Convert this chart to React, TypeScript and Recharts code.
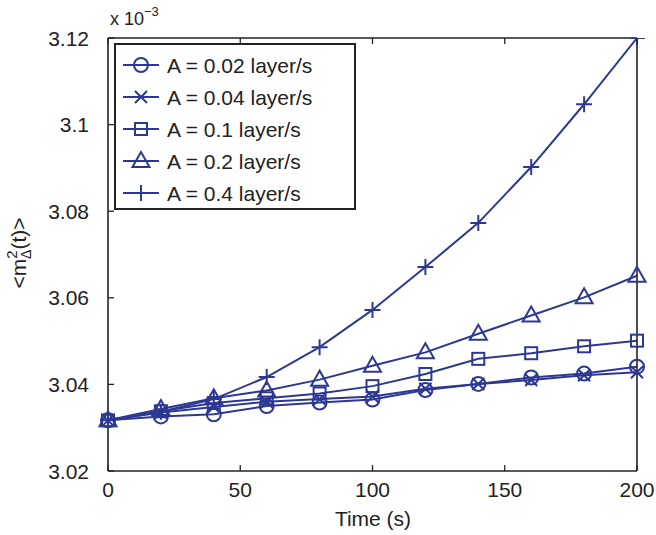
import React from 'react';
import { LineChart, Line, XAxis, YAxis, Legend } from 'recharts';

// time axis (s)
const times = [0, 20, 40, 60, 80, 100, 120, 140, 160, 180, 200];
// <m^2_Delta(t)>, in units of 1e-3
const a002 = [3.0317, 3.0326, 3.0331, 3.0350, 3.0358, 3.0365, 3.0387, 3.0401, 3.0416, 3.0425, 3.0441];
const a004 = [3.0317, 3.0335, 3.0348, 3.0360, 3.0366, 3.0372, 3.0390, 3.0401, 3.0410, 3.0421, 3.0428];
const a01 = [3.0317, 3.0338, 3.0357, 3.0368, 3.0379, 3.0396, 3.0424, 3.0459, 3.0472, 3.0488, 3.0501];
const a02 = [3.0317, 3.0343, 3.0368, 3.0386, 3.0411, 3.0443, 3.0474, 3.0517, 3.0559, 3.0601, 3.0651];
const a04 = [3.0317, 3.0337, 3.0366, 3.0417, 3.0486, 3.0572, 3.0671, 3.0773, 3.0902, 3.1047, 3.1200];

const seriesNames = ['A = 0.02 layer/s', 'A = 0.04 layer/s', 'A = 0.1 layer/s', 'A = 0.2 layer/s', 'A = 0.4 layer/s'];
const seriesKeys = ['a002', 'a004', 'a01', 'a02', 'a04'];
const markers = ['circle', 'cross', 'square', 'triangle', 'plus'];

const xTicks = [0, 50, 100, 150, 200];
const yTicks = [3.02, 3.04, 3.06, 3.08, 3.1, 3.12];

const data = times.map((t, i) => ({
  t,
  a002: a002[i],
  a004: a004[i],
  a01: a01[i],
  a02: a02[i],
  a04: a04[i],
}));

const BLUE = '#2c3892';
const AXIS = '#222';
const FONT = '"Liberation Sans", Arial, Helvetica, sans-serif';
const TICK_LEN = 6;

function Marker({ type, cx, cy }: { type: string; cx: number; cy: number }) {
  const p = { fill: 'none', stroke: BLUE, strokeWidth: 2 };
  switch (type) {
    case 'circle':
      return <circle cx={cx} cy={cy} r={7} {...p} />;
    case 'square':
      return <rect x={cx - 6} y={cy - 6} width={12} height={12} {...p} />;
    case 'triangle':
      return <polygon points={`${cx},${cy - 9} ${cx - 8.5},${cy + 6} ${cx + 8.5},${cy + 6}`} {...p} />;
    case 'plus':
      return <path d={`M${cx - 8},${cy}H${cx + 8}M${cx},${cy - 8}V${cy + 8}`} {...p} />;
    case 'cross':
      return <path d={`M${cx - 6},${cy - 6}L${cx + 6},${cy + 6}M${cx - 6},${cy + 6}L${cx + 6},${cy - 6}`} {...p} />;
    default:
      return null;
  }
}

const fmtY = (v: number) => String(parseFloat(v.toFixed(2)));

const BottomTick = (props: any) => {
  const { x, y, payload } = props;
  return (
    <g>
      <line x1={x} y1={y} x2={x} y2={y - TICK_LEN} stroke={AXIS} strokeWidth={1.3} />
      <text x={x} y={y + 26} textAnchor="middle" fontSize={21} fill="#222" fontFamily={FONT}>
        {payload.value}
      </text>
    </g>
  );
};

const TopTick = (props: any) => {
  const { x, y } = props;
  return <line x1={x} y1={y} x2={x} y2={y + TICK_LEN} stroke={AXIS} strokeWidth={1.3} />;
};

const LeftTick = (props: any) => {
  const { x, y, payload } = props;
  return (
    <g>
      <line x1={x} y1={y} x2={x + TICK_LEN} y2={y} stroke={AXIS} strokeWidth={1.3} />
      <text x={x - 19} y={y + 7.5} textAnchor="end" fontSize={21} fill="#222" fontFamily={FONT}>
        {fmtY(payload.value)}
      </text>
    </g>
  );
};

const RightTick = (props: any) => {
  const { x, y } = props;
  return <line x1={x} y1={y} x2={x - TICK_LEN} y2={y} stroke={AXIS} strokeWidth={1.3} />;
};

const TimeLabel = () => (
  <text x={373} y={526} textAnchor="middle" fontSize={21} fill="#222" fontFamily={FONT}>
    Time (s)
  </text>
);

const YLabel = () => (
  <text
    transform="translate(26, 253) rotate(-90)"
    textAnchor="middle"
    fontSize={21}
    fill="#222"
    fontFamily={FONT}
  >
    <tspan>&lt;m</tspan>
    <tspan fontSize={15} dy={-9}>2</tspan>
    <tspan fontSize={14} dx={-8.5} dy={14}>Δ</tspan>
    <tspan dy={-5}>(t)&gt;</tspan>
  </text>
);

const ScaleLabel = () => (
  <text x={110} y={25} fontSize={18} fill="#222" fontFamily={FONT}>
    <tspan>x 10</tspan>
    <tspan fontSize={13} dy={-9}>−3</tspan>
  </text>
);

const LegendBox = () => (
  <svg width={242} height={167} style={{ display: 'block' }}>
    <rect x={1} y={1} width={240} height={165} fill="#fff" stroke={AXIS} strokeWidth={2} />
    {seriesNames.map((name, i) => {
      const cy = 22 + i * 32;
      return (
        <g key={name}>
          <line x1={9} y1={cy} x2={45} y2={cy} stroke={BLUE} strokeWidth={2} />
          <Marker type={markers[i]} cx={27} cy={cy} />
          <text x={53} y={cy + 7.5} fontSize={21} fill="#222" fontFamily={FONT}>
            {name}
          </text>
        </g>
      );
    })}
  </svg>
);

export default function App() {
  return (
    <div style={{ position: 'absolute', left: 0, top: 0, width: 656, height: 535, background: '#fff' }}>
      <LineChart width={656} height={535} data={data} margin={{ top: 37, right: 18, bottom: 0, left: 0 }}>
        <XAxis
          dataKey="t"
          type="number"
          domain={[0, 200]}
          ticks={xTicks}
          height={64}
          tickLine={false}
          tickSize={0}
          tickMargin={0}
          tick={<BottomTick />}
          axisLine={{ stroke: AXIS, strokeWidth: 1.6 }}
          label={<TimeLabel />}
        />
        <XAxis
          xAxisId="top"
          orientation="top"
          dataKey="t"
          type="number"
          domain={[0, 200]}
          ticks={xTicks}
          height={1}
          tickLine={false}
          tickSize={0}
          tickMargin={0}
          tick={<TopTick />}
          axisLine={{ stroke: AXIS, strokeWidth: 1.6 }}
          label={<ScaleLabel />}
        />
        <YAxis
          type="number"
          domain={[3.02, 3.12]}
          ticks={yTicks}
          width={108}
          tickLine={false}
          tickSize={0}
          tickMargin={0}
          tick={<LeftTick />}
          axisLine={{ stroke: AXIS, strokeWidth: 1.6 }}
          label={<YLabel />}
          allowDataOverflow
        />
        <YAxis
          yAxisId="right"
          orientation="right"
          type="number"
          domain={[3.02, 3.12]}
          ticks={yTicks}
          width={1}
          tickLine={false}
          tickSize={0}
          tickMargin={0}
          tick={<RightTick />}
          axisLine={{ stroke: AXIS, strokeWidth: 1.6 }}
        />
        <Legend
          layout="vertical"
          align="center"
          verticalAlign="middle"
          wrapperStyle={{ left: 114, top: 43, width: 242, height: 167 }}
          content={<LegendBox />}
        />
        {seriesKeys.map((k, i) => (
          <Line
            key={k}
            dataKey={k}
            name={seriesNames[i]}
            stroke={BLUE}
            strokeWidth={2}
            isAnimationActive={false}
            dot={(p: any) => <Marker key={`${k}-${p.index}`} type={markers[i]} cx={p.cx} cy={p.cy} />}
            activeDot={false}
          />
        ))}
      </LineChart>
    </div>
  );
}
